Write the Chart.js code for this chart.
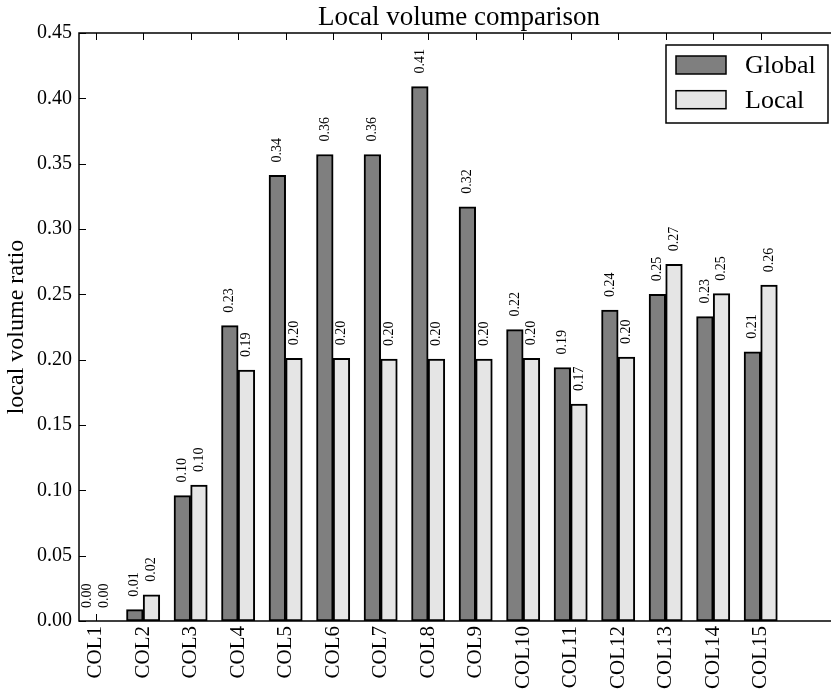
<!DOCTYPE html>
<html>
<head>
<meta charset="utf-8">
<script src="https://cdn.jsdelivr.net/npm/chart.js@4/dist/chart.umd.min.js"></script>
<style>
  html, body { margin: 0; padding: 0; background: #fff; }
  #wrap { width: 831px; height: 693px; position: relative; }
</style>
</head>
<body>
<div id="wrap"><canvas id="chart"></canvas></div>
<script>
// Column names and the two volume ratios per column
const categories = ['COL1', 'COL2', 'COL3', 'COL4', 'COL5', 'COL6', 'COL7', 'COL8',
                    'COL9', 'COL10', 'COL11', 'COL12', 'COL13', 'COL14', 'COL15'];
const globalRatio = [0.000, 0.0087, 0.096, 0.226, 0.341, 0.357, 0.357, 0.409,
                     0.317, 0.223, 0.194, 0.238, 0.250, 0.233, 0.206];
const localRatio  = [0.000, 0.020, 0.104, 0.192, 0.201, 0.201, 0.2005, 0.2005,
                     0.2005, 0.201, 0.166, 0.202, 0.273, 0.2505, 0.257];
const yTickValues = [0.00, 0.05, 0.10, 0.15, 0.20, 0.25, 0.30, 0.35, 0.40, 0.45];
const chartTitle = 'Local volume comparison';

const BAR_W = 0.35;          // bar width in category units
const X_END = 16;            // full axis extent; the canvas cuts it a little short
const SERIF = '"Liberation Serif", "DejaVu Serif", serif';

// each column occupies one unit; global bar at [i, i+w], local at [i+w, i+2w]
const globalPts = globalRatio.map((v, i) => ({ x: i + BAR_W / 2, y: v }));
const localPts  = localRatio.map((v, i) => ({ x: i + BAR_W * 1.5, y: v }));

// title, frame, inward ticks, value labels and legend
const decorations = {
  id: 'decorations',
  afterDatasetsDraw(chart) {
    const { ctx, chartArea: a, scales: { x, y } } = chart;
    const W = chart.width;
    ctx.save();

    // title centred over the full axis extent
    ctx.fillStyle = '#000';
    ctx.font = '27px ' + SERIF;
    ctx.textAlign = 'center';
    ctx.textBaseline = 'alphabetic';
    ctx.fillText(chartTitle, (a.left + x.getPixelForValue(X_END)) / 2, 25);

    // value labels above each bar, rotated
    ctx.font = '14px ' + SERIF;
    ctx.textAlign = 'left';
    ctx.textBaseline = 'middle';
    chart.data.datasets.forEach((ds, di) => {
      const meta = chart.getDatasetMeta(di);
      meta.data.forEach((bar, i) => {
        const v = ds.data[i].y;
        ctx.save();
        ctx.translate(bar.x, y.getPixelForValue(v) - 13);
        ctx.rotate(-Math.PI / 2);
        ctx.fillText(v.toFixed(2), 0, 0);
        ctx.restore();
      });
    });

    // inward tick marks
    ctx.strokeStyle = '#000';
    ctx.lineWidth = 1;
    const TL = 7;
    ctx.beginPath();
    x.ticks.forEach(t => {
      const px = Math.round(x.getPixelForValue(t.value)) + 0.5;
      ctx.moveTo(px, a.top); ctx.lineTo(px, a.top + TL);
      ctx.moveTo(px, a.bottom); ctx.lineTo(px, a.bottom - TL);
    });
    y.ticks.forEach(t => {
      const py = Math.round(y.getPixelForValue(t.value)) + 0.5;
      ctx.moveTo(a.left, py); ctx.lineTo(a.left + TL, py);
    });
    ctx.stroke();

    // axes frame: left, top and bottom spines run to the canvas edge
    ctx.lineWidth = 1.5;
    ctx.beginPath();
    ctx.moveTo(W, a.top); ctx.lineTo(a.left, a.top);
    ctx.lineTo(a.left, a.bottom); ctx.lineTo(W, a.bottom);
    ctx.stroke();

    // legend box in the upper right corner
    const lw = 162, lh = 78;
    const lx = W - 165, ly = a.top + 12;
    ctx.fillStyle = '#fff';
    ctx.fillRect(lx, ly, lw, lh);
    ctx.lineWidth = 1.5;
    ctx.strokeRect(lx, ly, lw, lh);
    ctx.font = '26px ' + SERIF;
    ctx.textBaseline = 'middle';
    chart.data.datasets.forEach((ds, di) => {
      const ry = ly + 11 + di * 34.7;
      ctx.fillStyle = ds.backgroundColor;
      ctx.fillRect(lx + 10, ry, 50, 18);
      ctx.strokeStyle = '#000';
      ctx.lineWidth = 1.5;
      ctx.strokeRect(lx + 10, ry, 50, 18);
      ctx.fillStyle = '#000';
      ctx.fillText(ds.label, lx + 79, ry + 10);
    });
    ctx.restore();
  }
};

new Chart(document.getElementById('chart'), {
  type: 'bar',
  data: {
    datasets: [
      { label: 'Global', data: globalPts, backgroundColor: '#7f7f7f',
        borderColor: '#000', borderWidth: 2, borderSkipped: false },
      { label: 'Local', data: localPts, backgroundColor: '#e5e5e5',
        borderColor: '#000', borderWidth: 2, borderSkipped: false }
    ]
  },
  options: {
    responsive: true,
    maintainAspectRatio: false,
    animation: false,
    devicePixelRatio: 1,
    grouped: false,
    categoryPercentage: 1,
    barPercentage: 1,
    layout: { padding: { top: 33, left: 0, right: 0, bottom: 0 } },
    plugins: {
      legend: { display: false },
      tooltip: { enabled: false },
      title: { display: false }
    },
    scales: {
      x: {
        type: 'linear',
        min: 0,
        max: 15.83,
        offset: false,
        grid: { display: false, drawTicks: false, offset: false },
        border: { display: false },
        afterBuildTicks(scale) {
          scale.ticks = categories.map((_, i) => ({ value: i + BAR_W }));
        },
        afterFit(scale) { scale.height = 72; },
        ticks: {
          autoSkip: false,
          minRotation: 90,
          maxRotation: 90,
          padding: 5,
          color: '#000',
          font: { family: SERIF, size: 21 },
          callback: (value, index) => categories[index]
        }
      },
      y: {
        min: 0,
        max: 0.45,
        grid: { display: false, drawTicks: false },
        border: { display: false },
        afterBuildTicks(scale) {
          scale.ticks = yTickValues.map(v => ({ value: v }));
        },
        afterFit(scale) { scale.width = 79; },
        ticks: {
          padding: 7,
          color: '#000',
          font: { family: SERIF, size: 20 },
          callback: v => v.toFixed(2)
        },
        title: {
          display: true,
          text: 'local volume ratio',
          color: '#000',
          font: { family: SERIF, size: 24 },
          padding: { top: 2, bottom: 0 }
        }
      }
    }
  },
  plugins: [decorations]
});
</script>
</body>
</html>
